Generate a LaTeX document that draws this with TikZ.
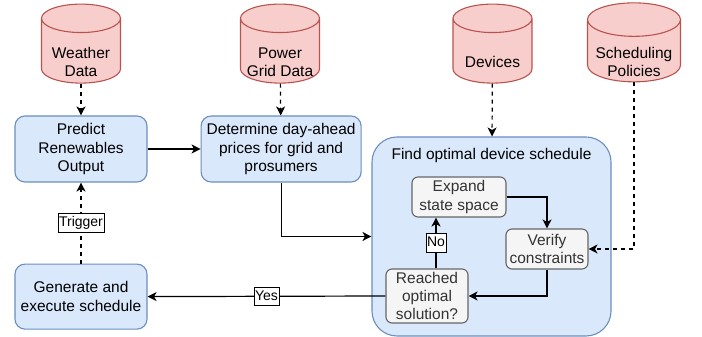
\documentclass[tikz,border=0pt]{standalone}
\usepackage{fontspec}
\setmainfont{Liberation Sans}
\usetikzlibrary{shapes.geometric, positioning, arrows.meta}
\definecolor{bluefill}{HTML}{DAE8FC}
\definecolor{blueline}{HTML}{6C8EBF}
\definecolor{redfill}{HTML}{F8CECC}
\definecolor{redline}{HTML}{B85450}
\definecolor{grayfill}{HTML}{F5F5F5}
\definecolor{grayline}{HTML}{666666}
\definecolor{graytext}{HTML}{333333}
\tikzset{
  >={Stealth[length=9pt,width=9pt,inset=2.5pt]},
  every node/.style={font=\fontsize{15.5}{18.3}\selectfont, align=center},
  task/.style={draw=blueline, fill=bluefill, line width=1.1pt, rounded corners=10pt, inner sep=0pt},
  stepbox/.style={draw=grayline, fill=grayfill, text=graytext, line width=1.1pt, rounded corners=6pt, inner sep=0pt, minimum height=40pt},
  db/.style={cylinder, shape border rotate=90, aspect=0.36, draw=redline, fill=redfill, line width=1.1pt,
    text width=#1, minimum width=#1, minimum height=79pt, inner sep=0pt},
  db/.default=79pt,
  edgelabel/.style={draw, solid, fill=white, line width=0.8pt, inner xsep=1pt, inner ysep=2.5pt, text height=10.5pt, text depth=3pt, font=\fontsize{14}{16}\selectfont},
  flow/.style={->, line width=1.2pt},
  feed/.style={->, line width=1.2pt, dash pattern=on 4pt off 4pt},
}

\begin{document}
\begin{tikzpicture}[x=1pt, y=1pt]
  \useasboundingbox (0,0) rectangle (702,337);

  % data sources
  \node[db]         (weather)  at (81,286)    {};
  \node[db]         (grid)     at (280,286)   {};
  \node[db]         (devices)  at (492.5,286) {};
  \node[db=93pt]    (policies) at (634,286)   {};
  \node (weathertxt)  at ([yshift=-11pt]weather.center)  {Weather\\Data};
  \node (gridtxt)     at ([yshift=-11pt]grid.center)     {Power\\Grid Data};
  \node (devicestxt)  at ([yshift=-11pt]devices.center)  {Devices};
  \node (policiestxt) at ([yshift=-11pt]policies.center) {Scheduling\\Policies};

  % process steps
  \node[task, minimum width=132pt, minimum height=66pt] (predict) at (81,188) {Predict\\Renewables\\Output};
  \node[task, minimum width=160pt, minimum height=66pt, right=53pt of predict] (prices) {Determine day-ahead\\prices for grid and\\prosumers};
  \node[task, minimum width=132pt, minimum height=65pt, below=81pt of predict] (execute) {Generate and\\execute schedule};
  \node[task, rounded corners=25pt, minimum width=239pt, minimum height=199pt] (optimize) at (491.5,100.5) {};
  \node (optitle) at (491.5,182) {Find optimal device schedule};
  \node[stepbox, minimum width=94pt] (expand)  at (459,140) {Expand\\state space};
  \node[stepbox, minimum width=82pt] (verify)  at (547,88)  {Verify\\constraints};
  \node[stepbox, minimum width=82pt, minimum height=54pt] (reached) at (427,41) {Reached\\optimal\\solution?};

  % connectors
  \draw[feed] (weather) -- (predict);
  \draw[feed] (grid) -- (prices);
  \draw[feed] (devices) -- (optimize);
  \draw[feed] (policies.south) |- (verify.east);
  \draw[flow] (predict) -- (prices);
  \draw[flow] (prices.south) |- (optimize.west);
  \draw[flow] (expand.east) -| (verify.north);
  \draw[flow] (verify.south) |- (reached.east);
  \draw[flow] ([xshift=9pt]reached.north) -- ([xshift=9pt]reached.north |- expand.south) node[edgelabel, midway] {No};
  \draw[flow] (reached.west) -- (execute.east) node[edgelabel, midway] {Yes};
  \draw[feed] (execute) -- (predict) node[edgelabel, midway] {Trigger};
\end{tikzpicture}
\end{document}
